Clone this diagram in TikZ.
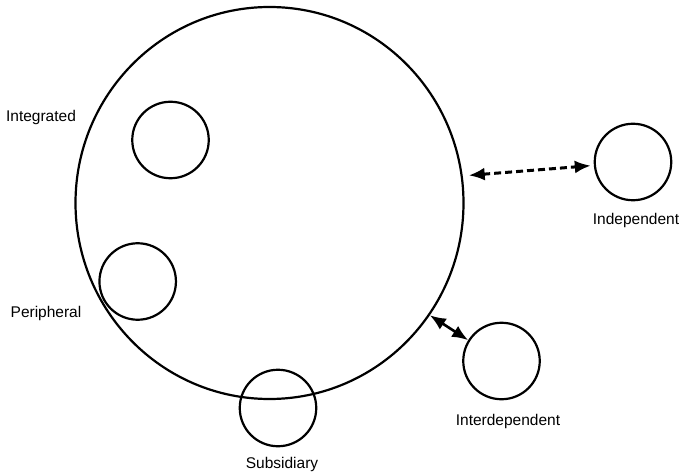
\documentclass[tikz,border=0pt]{standalone}
\usepackage{fontspec}
\setmainfont{Liberation Sans}
\usetikzlibrary{arrows.meta,shapes.geometric}
\begin{document}
\begin{tikzpicture}[x=1pt,y=-1pt,
  ring/.style={draw,line width=2.2pt,circle,inner sep=0pt,minimum size=76.5pt},
  bigring/.style={draw,line width=2.2pt,ellipse,inner sep=0pt,minimum width=388pt,minimum height=392pt},
  lbl/.style={font=\fontsize{15.5}{18}\selectfont,inner sep=0pt},
  arr/.style={{Latex[length=16pt,width=13pt]}-{Latex[length=16pt,width=13pt]},line width=2.6pt},
  dasharr/.style={arr,line width=3pt,dash pattern=on 7pt off 4pt}]
\useasboundingbox (0,0) rectangle (680,473);
\node[bigring] (big) at (269.5,203) {};
\node[ring] (integ) at (170.5,140) {};
\node[ring] (periph) at (137.7,281.5) {};
\node[ring] (subs) at (278,408) {};
\node[ring] (interdep) at (501.5,361) {};
\node[ring] (indep) at (633,162) {};
\node[lbl] (tinteg) at (41,117) {Integrated};
\node[lbl] (tperiph) at (46,313.5) {Peripheral};
\node[lbl] (tsubs) at (282,464) {Subsidiary};
\node[lbl] (tinterdep) at (508,421) {Interdependent};
\node[lbl] (tindep) at (636,220) {Independent};
\draw[dasharr,shorten <=6pt,shorten >=3pt] (big.8) -- (indep.185);
\draw[arr] (big.-35) -- (interdep.148);
\end{tikzpicture}
\end{document}
